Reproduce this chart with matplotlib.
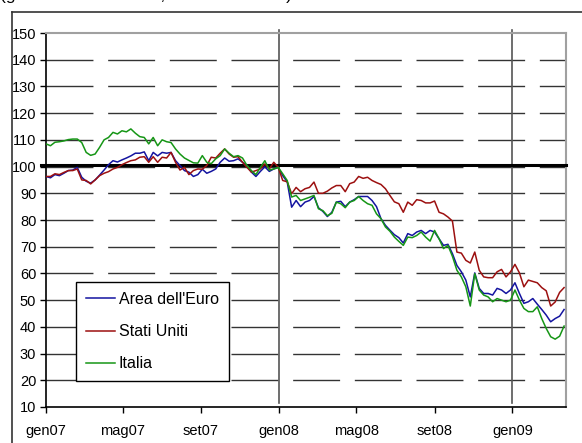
import matplotlib
matplotlib.use("Agg")
import matplotlib.pyplot as plt
import matplotlib.font_manager as fm
from matplotlib.lines import Line2D
import pandas as pd

# ---------------- data ----------------
start_date = "2007-01-01"   # weekly observations
tick_dates = ["2007-01-01", "2007-05-01", "2007-09-01", "2008-01-01",
              "2008-05-01", "2008-09-01", "2009-01-01"]
tick_labels = ["gen07", "mag07", "set07", "gen08", "mag08", "set08", "gen09"]
year_marks = ["2008-01-01", "2009-01-01"]
y_ticks = [10, 20, 30, 40, 50, 60, 70, 80, 90, 100, 110, 120, 130, 140, 150]
base_level = 100.7

area_euro = [
    96.3, 95.8, 97.0, 96.6, 97.5, 98.5, 98.7, 99.7, 96.0, 94.5,
    93.8, 95.0, 96.8, 98.7, 100.7, 102.2, 101.7, 102.5, 103.2, 104.0,
    105.0, 105.0, 105.5, 102.2, 105.3, 104.0, 105.3, 105.0, 105.3, 102.2,
    100.4, 98.5, 97.9, 96.3, 97.0, 99.0, 97.5, 98.2, 99.1, 101.6,
    103.2, 102.0, 102.2, 102.9, 101.6, 100.4, 97.9, 96.3, 98.2, 99.9,
    98.2, 99.1, 99.7, 96.6, 94.3, 84.8, 87.3, 85.0, 86.7, 87.3,
    88.8, 84.6, 83.2, 81.3, 82.9, 86.7, 87.0, 85.0, 86.7, 87.6,
    88.8, 88.8, 88.8, 87.3, 85.0, 80.5, 78.0, 76.2, 74.5, 73.4,
    71.4, 74.9, 74.2, 75.5, 76.1, 74.9, 76.1, 75.5, 73.0, 70.5,
    70.9, 67.4, 63.0, 60.6, 57.5, 51.2, 60.2, 54.4, 52.5, 52.5,
    51.9, 54.4, 53.8, 52.5, 53.8, 56.5, 52.5, 48.8, 49.4, 50.6,
    48.5, 46.5, 44.4, 41.9, 43.1, 44.0, 46.5,
]
stati_uniti = [
    96.3, 96.3, 97.3, 97.0, 97.8, 98.5, 98.5, 99.1, 95.0, 94.8,
    93.5, 95.0, 96.6, 97.5, 98.1, 99.1, 99.7, 100.7, 101.5, 102.2,
    102.5, 103.5, 103.7, 101.6, 103.7, 101.6, 103.5, 103.2, 105.3, 101.6,
    98.7, 99.7, 97.0, 98.5, 99.1, 99.0, 100.4, 103.5, 103.2, 105.0,
    106.6, 104.7, 103.5, 103.7, 101.6, 99.7, 97.9, 98.5, 99.1, 101.0,
    99.1, 101.6, 99.7, 94.8, 94.3, 89.8, 92.2, 90.6, 91.7, 92.2,
    94.2, 90.0, 90.0, 90.8, 92.0, 92.9, 92.9, 90.6, 93.6, 94.2,
    96.3, 95.6, 96.0, 94.8, 94.0, 93.3, 91.7, 89.2, 86.8, 86.1,
    82.9, 86.7, 85.5, 87.6, 87.3, 86.4, 86.4, 87.1, 82.9, 82.3,
    81.1, 79.6, 68.0, 67.6, 64.9, 63.9, 68.0, 61.2, 58.7, 58.4,
    58.4, 60.6, 61.5, 58.7, 60.6, 63.4, 60.2, 55.0, 57.5, 57.0,
    56.5, 54.7, 53.5, 47.8, 49.3, 52.9, 54.7,
]
italia = [
    108.5, 107.8, 109.1, 109.3, 109.6, 110.1, 110.3, 110.3, 109.0, 105.3,
    104.2, 104.7, 107.2, 110.0, 110.9, 112.8, 112.2, 113.4, 113.0, 114.1,
    112.5, 111.2, 110.9, 108.5, 110.9, 107.8, 110.0, 109.3, 109.0, 106.6,
    104.7, 103.2, 102.3, 101.4, 101.3, 104.1, 101.6, 101.1, 102.9, 104.1,
    106.6, 105.0, 103.7, 104.1, 103.2, 100.4, 98.5, 97.0, 99.7, 102.2,
    98.7, 99.1, 99.7, 97.3, 94.8, 88.6, 89.2, 87.3, 87.9, 88.5,
    89.2, 84.2, 83.5, 81.6, 82.5, 86.7, 86.1, 84.6, 86.7, 87.3,
    88.8, 87.3, 86.1, 85.5, 82.3, 80.5, 77.4, 75.8, 73.6, 72.0,
    70.5, 73.6, 73.4, 74.2, 75.5, 73.6, 72.1, 76.1, 73.0, 69.3,
    70.5, 66.4, 61.2, 58.7, 55.0, 47.8, 59.9, 53.8, 51.9, 51.2,
    49.4, 50.6, 50.0, 49.4, 50.0, 53.8, 50.0, 46.9, 45.7, 45.7,
    47.5, 43.1, 39.4, 36.3, 35.4, 36.5, 40.3,
]
series_names = ["Area dell'Euro", "Stati Uniti", "Italia"]
series_colors = ["#1414a0", "#9c1010", "#169616"]

dates = pd.date_range(start_date, periods=len(area_euro), freq="7D")

# ---------------- fonts ----------------
available = {f.name for f in fm.fontManager.ttflist}
tick_font = "Liberation Sans" if "Liberation Sans" in available else "DejaVu Sans"
leg_font = "Liberation Sans Narrow" if "Liberation Sans Narrow" in available else tick_font
leg_size = 13.5 if leg_font == "Liberation Sans Narrow" else 11.5

W, H = 582, 443
fig = plt.figure(figsize=(W / 100, H / 100), dpi=100)
fig.patch.set_facecolor("white")

L, R, T, B = 46, 566, 33, 407
ax = fig.add_axes([L / W, 1 - B / H, (R - L) / W, (B - T) / H])

# gridlines (long dashes)
for v in y_ticks[1:-1]:
    ax.axhline(v, color="#333333", lw=1.0, linestyle=(0, (33.8, 10.6)), zorder=1)

# year separators
for d in year_marks:
    ax.axvline(pd.Timestamp(d), ymin=0.01, ymax=1.008, color="#555555", lw=1.2,
               clip_on=False, zorder=2)

# reference thick line
ax.axhline(base_level, xmin=-0.0105, xmax=1.0, color="black", lw=2.2,
           clip_on=False, zorder=3)

for vals, name, col in zip([area_euro, stati_uniti, italia], series_names, series_colors):
    ax.plot(dates, vals, color=col, lw=1.1, label=name, zorder=4)

ax.set_ylim(y_ticks[0], y_ticks[-1])
ax.set_yticks(y_ticks)
ax.set_xlim(pd.Timestamp("2007-01-01"), pd.Timestamp("2009-03-26"))
ax.set_xticks([pd.Timestamp(d) for d in tick_dates])
ax.set_xticklabels(tick_labels)

ax.tick_params(axis="y", direction="out", length=4, width=1, pad=3,
               labelsize=10.5, colors="black")
ax.tick_params(axis="x", direction="out", length=4, width=1, pad=8,
               labelsize=10.5, colors="black")
for lab in ax.get_xticklabels() + ax.get_yticklabels():
    lab.set_fontfamily(tick_font)

for side in ["left", "bottom"]:
    ax.spines[side].set_color("black")
    ax.spines[side].set_linewidth(1.2)
for side in ["top", "right"]:
    ax.spines[side].set_color("#a0a0a0")
    ax.spines[side].set_linewidth(1.5)

leg = ax.legend(loc="upper left", bbox_to_anchor=(76 / W, 1 - 282 / H),
                bbox_transform=fig.transFigure, borderaxespad=0,
                prop={"family": leg_font, "size": leg_size},
                handlelength=1.8, handletextpad=0.25, labelspacing=1.08,
                borderpad=0.62, fancybox=False, framealpha=1, edgecolor="black")
leg.get_frame().set_linewidth(1.0)
leg.set_zorder(6)

# outer frame of the original picture
fig.add_artist(Line2D([12 / W, 12 / W], [0, 1 - 12 / H], transform=fig.transFigure,
                      color="#333333", lw=1.2))
fig.add_artist(Line2D([12 / W, 1], [1 - 12 / H, 1 - 12 / H], transform=fig.transFigure,
                      color="#333333", lw=1.2))

# cut-off heading at the very top (only its lowest part is visible)
fig.text(0.0, 1.0, "(gennaio 2007 = 100; dati settimanali)", ha="left", va="baseline",
         fontsize=12.5, family=tick_font)

fig.savefig("out.png", dpi=100, facecolor="white")
